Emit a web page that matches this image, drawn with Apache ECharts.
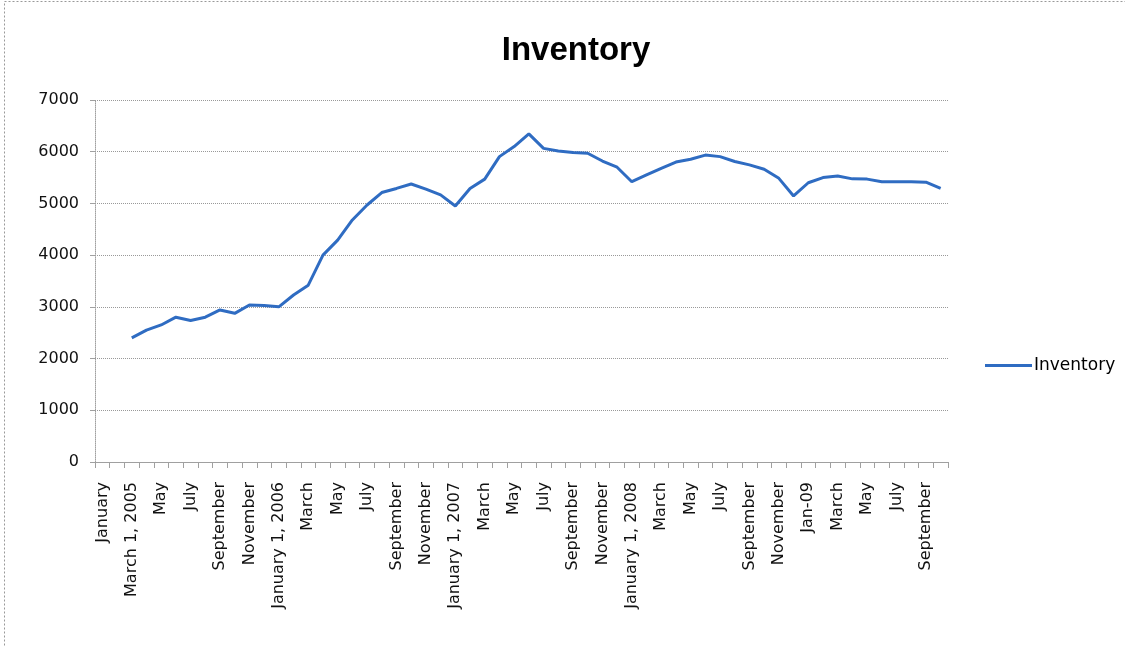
<!DOCTYPE html>
<html>
<head>
<meta charset="utf-8">
<script src="https://cdn.jsdelivr.net/npm/echarts@6/dist/echarts.min.js"></script>
<style>html,body{margin:0;padding:0;background:#fff;}#c{width:1125px;height:646px;}</style>
</head>
<body>
<div id="c"></div>
<script>
var categories = [
  "January","February","March 1, 2005","April","May","June","July","August","September","October","November","December",
  "January 1, 2006","February","March","April","May","June","July","August","September","October","November","December",
  "January 1, 2007","February","March","April","May","June","July","August","September","October","November","December",
  "January 1, 2008","February","March","April","May","June","July","August","September","October","November","December",
  "Jan-09","February","March","April","May","June","July","August","September","October"
];
var inventory = [
  null, null, 2400, 2550, 2650, 2800, 2735, 2800, 2940, 2875, 3035, 3025,
  3000, 3230, 3420, 4000, 4290, 4680, 4970, 5210, 5290, 5375, 5275, 5165,
  4950, 5290, 5470, 5905, 6100, 6345, 6065, 6015, 5985, 5970, 5820, 5700,
  5420, 5550, 5680, 5800, 5855, 5935, 5905, 5810, 5745, 5660, 5485, 5145,
  5400, 5500, 5530, 5475, 5470, 5420, 5420, 5420, 5410, 5290
];
var yTicks = [0, 1000, 2000, 3000, 4000, 5000, 6000, 7000];

var chart = echarts.init(document.getElementById('c'), null, {renderer: 'canvas'});
chart.setOption({
  backgroundColor: '#fff',
  animation: false,
  title: {
    text: 'Inventory',
    left: 571, top: 29, textAlign: 'center',
    textStyle: {fontFamily: 'Liberation Sans', fontWeight: 'bold', fontSize: 33, color: '#000'}
  },
  legend: {
    data: [{name: 'Inventory', icon: 'rect'}],
    left: 980, top: 352,
    itemWidth: 47, itemHeight: 3, itemGap: 4,
    textStyle: {fontFamily: 'DejaVu Sans', fontSize: 17, color: '#000', padding: [0, 0, 0, -3]}
  },
  grid: {left: 95, right: 177, top: 100, bottom: 184, containLabel: false},
  xAxis: {
    type: 'category',
    data: categories,
    boundaryGap: true,
    axisLine: {lineStyle: {color: '#a0a0a0', width: 1}},
    axisTick: {show: true, interval: 0, length: 6, lineStyle: {color: '#a0a0a0'}},
    axisLabel: {
      interval: 1, rotate: 90, margin: 20,
      fontFamily: 'DejaVu Sans', fontSize: 16, color: '#111'
    },
    splitLine: {show: false}
  },
  yAxis: {
    type: 'value',
    min: yTicks[0], max: yTicks[yTicks.length - 1], interval: 1000,
    axisLine: {show: true, lineStyle: {color: '#a0a0a0', type: 'dotted'}},
    axisTick: {show: true, length: 5, lineStyle: {color: '#a0a0a0'}},
    axisLabel: {
      margin: 16, fontFamily: 'DejaVu Sans', fontSize: 16, color: '#111',
      formatter: function (v) { return String(v); }
    },
    splitLine: {show: true, lineStyle: {color: '#999', type: 'dotted', width: 1}}
  },
  series: [{
    name: 'Inventory',
    type: 'line',
    data: inventory,
    symbol: 'none',
    connectNulls: false,
    lineStyle: {color: '#2f6cc2', width: 3},
    itemStyle: {color: '#2f6cc2'}
  }],
  graphic: [{
    type: 'rect',
    shape: {x: 4.5, y: 1.5, width: 1140, height: 660},
    style: {fill: 'none', stroke: '#999', lineWidth: 1, lineDash: [2, 2]},
    silent: true
  }]
});
</script>
</body>
</html>
